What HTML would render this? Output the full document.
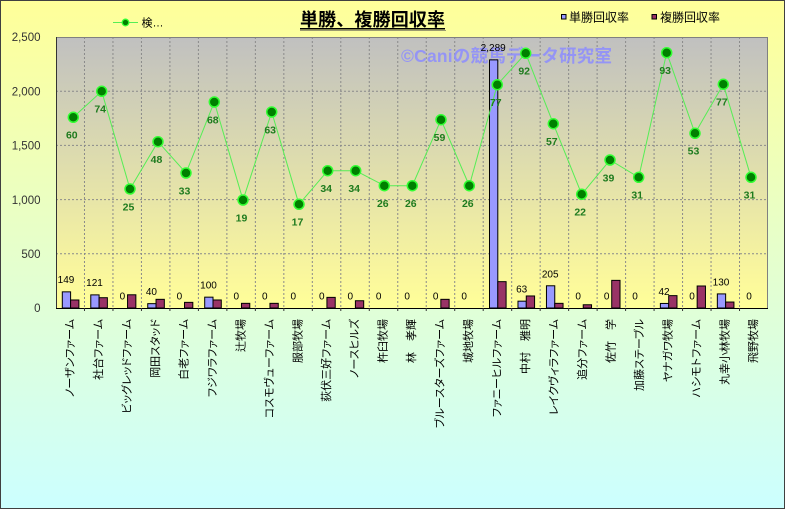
<!DOCTYPE html>
<html><head><meta charset="utf-8"><style>
html,body{margin:0;padding:0;width:785px;height:509px;overflow:hidden;}
svg{display:block;}
text{font-family:"Liberation Sans","Noto Sans CJK JP",sans-serif;}
.xl{font-size:11px;font-feature-settings:"palt";fill:#000;}
.yl{font-size:11.5px;fill:#333;}
.bl{font-size:10px;fill:#000;}
.gl{font-size:10.5px;font-weight:bold;fill:#1e7b1e;}
</style></head><body>
<svg width="785" height="509" viewBox="0 0 785 509" xmlns="http://www.w3.org/2000/svg">
<defs>
<linearGradient id="bg" x1="0" y1="0" x2="0" y2="1"><stop offset="0" stop-color="#ffff99"/><stop offset="1" stop-color="#ccffff"/></linearGradient>
<linearGradient id="pa" x1="0" y1="0" x2="0" y2="1"><stop offset="0" stop-color="#c0c0c0"/><stop offset="0.9" stop-color="#fbf89c"/><stop offset="1" stop-color="#ffff99"/></linearGradient>
</defs>
<rect x="0.5" y="0.5" width="784" height="508" fill="url(#bg)" stroke="#404040" stroke-width="1"/>
<rect x="56" y="37" width="712" height="271" fill="url(#pa)"/>
<!-- gridlines -->
<g stroke="#8a8a8a" stroke-width="1" stroke-dasharray="2,2" fill="none">
<line x1="56" y1="253.8" x2="768" y2="253.8"/><line x1="56" y1="199.6" x2="768" y2="199.6"/><line x1="56" y1="145.4" x2="768" y2="145.4"/><line x1="56" y1="91.2" x2="768" y2="91.2"/>
<line x1="84.48" y1="37" x2="84.48" y2="308"/><line x1="112.96" y1="37" x2="112.96" y2="308"/><line x1="141.44" y1="37" x2="141.44" y2="308"/><line x1="169.92" y1="37" x2="169.92" y2="308"/><line x1="198.4" y1="37" x2="198.4" y2="308"/><line x1="226.88" y1="37" x2="226.88" y2="308"/><line x1="255.36" y1="37" x2="255.36" y2="308"/><line x1="283.84" y1="37" x2="283.84" y2="308"/><line x1="312.32" y1="37" x2="312.32" y2="308"/><line x1="340.8" y1="37" x2="340.8" y2="308"/><line x1="369.28" y1="37" x2="369.28" y2="308"/><line x1="397.76" y1="37" x2="397.76" y2="308"/><line x1="426.24" y1="37" x2="426.24" y2="308"/><line x1="454.72" y1="37" x2="454.72" y2="308"/><line x1="483.2" y1="37" x2="483.2" y2="308"/><line x1="511.68" y1="37" x2="511.68" y2="308"/><line x1="540.16" y1="37" x2="540.16" y2="308"/><line x1="568.64" y1="37" x2="568.64" y2="308"/><line x1="597.12" y1="37" x2="597.12" y2="308"/><line x1="625.6" y1="37" x2="625.6" y2="308"/><line x1="654.08" y1="37" x2="654.08" y2="308"/><line x1="682.56" y1="37" x2="682.56" y2="308"/><line x1="711.04" y1="37" x2="711.04" y2="308"/><line x1="739.52" y1="37" x2="739.52" y2="308"/>
</g>
<!-- plot border -->
<line x1="56" y1="37.5" x2="768" y2="37.5" stroke="#808080"/>
<line x1="767.5" y1="37" x2="767.5" y2="308" stroke="#808080"/>
<line x1="56.5" y1="37" x2="56.5" y2="309" stroke="#333"/>
<!-- watermark -->
<text x="401" y="62" font-size="17.5" font-weight="bold" fill="#8c8cff" fill-opacity="0.85" textLength="211" lengthAdjust="spacing">©Caniの競馬データ研究室</text>
<!-- bars -->
<g stroke="#000" stroke-width="1">
<rect x="62.3" y="291.85" width="8.3" height="16.15" fill="#9999ff"/><rect x="70.6" y="299.98" width="8.3" height="8.02" fill="#993366"/>
<rect x="90.78" y="294.88" width="8.3" height="13.12" fill="#9999ff"/><rect x="99.08" y="297.7" width="8.3" height="10.3" fill="#993366"/>
<rect x="127.56" y="294.78" width="8.3" height="13.22" fill="#993366"/>
<rect x="147.74" y="303.66" width="8.3" height="4.34" fill="#9999ff"/><rect x="156.04" y="299.33" width="8.3" height="8.67" fill="#993366"/>
<rect x="184.52" y="302.36" width="8.3" height="5.64" fill="#993366"/>
<rect x="204.7" y="297.16" width="8.3" height="10.84" fill="#9999ff"/><rect x="213" y="299.98" width="8.3" height="8.02" fill="#993366"/>
<rect x="241.48" y="303.34" width="8.3" height="4.66" fill="#993366"/>
<rect x="269.96" y="303.34" width="8.3" height="4.66" fill="#993366"/>
<rect x="326.92" y="297.38" width="8.3" height="10.62" fill="#993366"/>
<rect x="355.4" y="300.74" width="8.3" height="7.26" fill="#993366"/>
<rect x="440.84" y="299.33" width="8.3" height="8.67" fill="#993366"/>
<rect x="489.5" y="59.87" width="8.3" height="248.13" fill="#9999ff"/><rect x="497.8" y="281.66" width="8.3" height="26.34" fill="#993366"/>
<rect x="517.98" y="301.17" width="8.3" height="6.83" fill="#9999ff"/><rect x="526.28" y="295.97" width="8.3" height="12.03" fill="#993366"/>
<rect x="546.46" y="285.78" width="8.3" height="22.22" fill="#9999ff"/><rect x="554.76" y="303.34" width="8.3" height="4.66" fill="#993366"/>
<rect x="583.24" y="304.75" width="8.3" height="3.25" fill="#993366"/>
<rect x="611.72" y="280.36" width="8.3" height="27.64" fill="#993366"/>
<rect x="660.38" y="303.45" width="8.3" height="4.55" fill="#9999ff"/><rect x="668.68" y="295.64" width="8.3" height="12.36" fill="#993366"/>
<rect x="697.16" y="286" width="8.3" height="22" fill="#993366"/>
<rect x="717.34" y="293.91" width="8.3" height="14.09" fill="#9999ff"/><rect x="725.64" y="302.04" width="8.3" height="5.96" fill="#993366"/>
</g>
<!-- x axis -->
<line x1="56" y1="308.5" x2="768" y2="308.5" stroke="#000"/>
<g stroke="#333" stroke-width="1">
<line x1="84.48" y1="308" x2="84.48" y2="311"/><line x1="112.96" y1="308" x2="112.96" y2="311"/><line x1="141.44" y1="308" x2="141.44" y2="311"/><line x1="169.92" y1="308" x2="169.92" y2="311"/><line x1="198.4" y1="308" x2="198.4" y2="311"/><line x1="226.88" y1="308" x2="226.88" y2="311"/><line x1="255.36" y1="308" x2="255.36" y2="311"/><line x1="283.84" y1="308" x2="283.84" y2="311"/><line x1="312.32" y1="308" x2="312.32" y2="311"/><line x1="340.8" y1="308" x2="340.8" y2="311"/><line x1="369.28" y1="308" x2="369.28" y2="311"/><line x1="397.76" y1="308" x2="397.76" y2="311"/><line x1="426.24" y1="308" x2="426.24" y2="311"/><line x1="454.72" y1="308" x2="454.72" y2="311"/><line x1="483.2" y1="308" x2="483.2" y2="311"/><line x1="511.68" y1="308" x2="511.68" y2="311"/><line x1="540.16" y1="308" x2="540.16" y2="311"/><line x1="568.64" y1="308" x2="568.64" y2="311"/><line x1="597.12" y1="308" x2="597.12" y2="311"/><line x1="625.6" y1="308" x2="625.6" y2="311"/><line x1="654.08" y1="308" x2="654.08" y2="311"/><line x1="682.56" y1="308" x2="682.56" y2="311"/><line x1="711.04" y1="308" x2="711.04" y2="311"/><line x1="739.52" y1="308" x2="739.52" y2="311"/>
</g>
<!-- bar labels -->
<g class="bl" text-anchor="middle">
<text x="66" y="283.2">149</text><text x="94.5" y="286.2">121</text><text x="122.4" y="299.3">0</text><text x="151.4" y="295">40</text><text x="179.4" y="299.3">0</text><text x="208.5" y="288.5">100</text><text x="236.3" y="299.3">0</text><text x="264.8" y="299.3">0</text><text x="293.3" y="299.3">0</text><text x="321.8" y="299.3">0</text><text x="350.3" y="299.3">0</text><text x="378.7" y="299.3">0</text><text x="407.2" y="299.3">0</text><text x="435.7" y="299.3">0</text><text x="464.2" y="299.3">0</text><text x="493.2" y="51.2">2,289</text><text x="521.7" y="292.5">63</text><text x="550.2" y="277.3">205</text><text x="578.1" y="299.3">0</text><text x="606.6" y="299.3">0</text><text x="635" y="299.3">0</text><text x="664" y="294.8">42</text><text x="692" y="299.3">0</text><text x="721" y="285.4">130</text><text x="749" y="299.3">0</text>
</g>
<!-- line series -->
<polyline fill="none" stroke="#55ee55" stroke-width="1" points="73.3,117.3 101.7,91.3 130,189 158,141.7 186,173 214.3,102 243,200 271.7,112 299,204.3 327.7,170.7 355.7,170.7 384.3,185.7 412.3,185.7 441,119.7 469.3,185.7 497.3,84.7 525.7,53.3 553.3,123.7 581.7,194.3 610,160 638.7,177.3 666.7,52.7 695,133.3 723.3,84.3 751,177.3"/>
<g fill="#008000" stroke="#33ff33" stroke-width="1.5">
<circle cx="73.3" cy="117.3" r="5"/><circle cx="101.7" cy="91.3" r="5"/><circle cx="130" cy="189" r="5"/><circle cx="158" cy="141.7" r="5"/><circle cx="186" cy="173" r="5"/><circle cx="214.3" cy="102" r="5"/><circle cx="243" cy="200" r="5"/><circle cx="271.7" cy="112" r="5"/><circle cx="299" cy="204.3" r="5"/><circle cx="327.7" cy="170.7" r="5"/><circle cx="355.7" cy="170.7" r="5"/><circle cx="384.3" cy="185.7" r="5"/><circle cx="412.3" cy="185.7" r="5"/><circle cx="441" cy="119.7" r="5"/><circle cx="469.3" cy="185.7" r="5"/><circle cx="497.3" cy="84.7" r="5"/><circle cx="525.7" cy="53.3" r="5"/><circle cx="553.3" cy="123.7" r="5"/><circle cx="581.7" cy="194.3" r="5"/><circle cx="610" cy="160" r="5"/><circle cx="638.7" cy="177.3" r="5"/><circle cx="666.7" cy="52.7" r="5"/><circle cx="695" cy="133.3" r="5"/><circle cx="723.3" cy="84.3" r="5"/><circle cx="751" cy="177.3" r="5"/>
</g>
<g class="gl" text-anchor="middle">
<text x="71.8" y="138.7">60</text><text x="100.2" y="112.7">74</text><text x="128.5" y="210.4">25</text><text x="156.5" y="163.1">48</text><text x="184.5" y="194.4">33</text><text x="212.8" y="123.4">68</text><text x="241.5" y="221.4">19</text><text x="270.2" y="133.4">63</text><text x="297.5" y="225.7">17</text><text x="326.2" y="192.1">34</text><text x="354.2" y="192.1">34</text><text x="382.8" y="207.1">26</text><text x="410.8" y="207.1">26</text><text x="439.5" y="141.1">59</text><text x="467.8" y="207.1">26</text><text x="495.8" y="106.1">77</text><text x="524.2" y="74.7">92</text><text x="551.8" y="145.1">57</text><text x="580.2" y="215.7">22</text><text x="608.5" y="181.4">39</text><text x="637.2" y="198.7">31</text><text x="665.2" y="74.1">93</text><text x="693.5" y="154.7">53</text><text x="721.8" y="105.7">77</text><text x="749.5" y="198.7">31</text>
</g>
<!-- y axis labels -->
<g class="yl" text-anchor="end">
<text x="40.5" y="41.2">2,500</text><text x="40.5" y="95.4">2,000</text><text x="40.5" y="149.6">1,500</text><text x="40.5" y="203.8">1,000</text><text x="40.5" y="258">500</text><text x="40.5" y="312.2">0</text>
</g>
<!-- x labels -->
<g class="xl" text-anchor="end" dominant-baseline="central">
<text transform="translate(70.5,319) rotate(-90)">ノーザンファーム</text>
<text transform="translate(98.9,319) rotate(-90)">社台ファーム</text>
<text transform="translate(127.4,319) rotate(-90)">ビッグレッドファーム</text>
<text transform="translate(155.9,319) rotate(-90)">岡田スタッド</text>
<text transform="translate(184.4,319) rotate(-90)">白老ファーム</text>
<text transform="translate(212.8,319) rotate(-90)">フジワラファーム</text>
<text transform="translate(241.3,319) rotate(-90)">辻牧場</text>
<text transform="translate(269.8,319) rotate(-90)">コスモヴューファーム</text>
<text transform="translate(298.3,319) rotate(-90)">服部牧場</text>
<text transform="translate(326.8,319) rotate(-90)">荻伏三好ファーム</text>
<text transform="translate(355.2,319) rotate(-90)">ノースヒルズ</text>
<text transform="translate(383.7,319) rotate(-90)">杵臼牧場</text>
<text transform="translate(412.2,319) rotate(-90)">林　孝輝</text>
<text transform="translate(440.7,319) rotate(-90)">ブルースターズファーム</text>
<text transform="translate(469.2,319) rotate(-90)">城地牧場</text>
<text transform="translate(497.6,319) rotate(-90)">ファニーヒルファーム</text>
<text transform="translate(526.1,319) rotate(-90)">中村　雅明</text>
<text transform="translate(554.6,319) rotate(-90)">レイクヴィラファーム</text>
<text transform="translate(583.1,319) rotate(-90)">追分ファーム</text>
<text transform="translate(611.6,319) rotate(-90)">佐竹　学</text>
<text transform="translate(640,319) rotate(-90)">加藤ステーブル</text>
<text transform="translate(668.5,319) rotate(-90)">ヤナガワ牧場</text>
<text transform="translate(697,319) rotate(-90)">ハシモトファーム</text>
<text transform="translate(725.5,319) rotate(-90)">丸幸小林牧場</text>
<text transform="translate(754,319) rotate(-90)">飛野牧場</text>
</g>
<!-- title -->
<text x="300" y="26" font-size="18" font-weight="bold" fill="#000" textLength="145" lengthAdjust="spacing">単勝、複勝回収率</text>
<line x1="300" y1="30.5" x2="446" y2="30.5" stroke="#9a9a70" stroke-width="1"/>
<line x1="300" y1="28.8" x2="445" y2="28.8" stroke="#000" stroke-width="1.5"/>
<!-- legends -->
<line x1="113" y1="22.5" x2="138" y2="22.5" stroke="#55ee55" stroke-width="1"/>
<circle cx="125.5" cy="22.5" r="3.3" fill="#008000" stroke="#33ff33" stroke-width="1.3"/>
<text x="141.5" y="26.5" font-size="11" fill="#000">検…</text>
<rect x="561.5" y="14.5" width="4.5" height="4.5" fill="#9999ff" stroke="#000" stroke-width="1"/>
<text x="569" y="21.5" font-size="12" fill="#000">単勝回収率</text>
<rect x="652" y="14.5" width="4.5" height="4.5" fill="#993366" stroke="#000" stroke-width="1"/>
<text x="660" y="21.5" font-size="12" fill="#000">複勝回収率</text>
</svg>
</body></html>
